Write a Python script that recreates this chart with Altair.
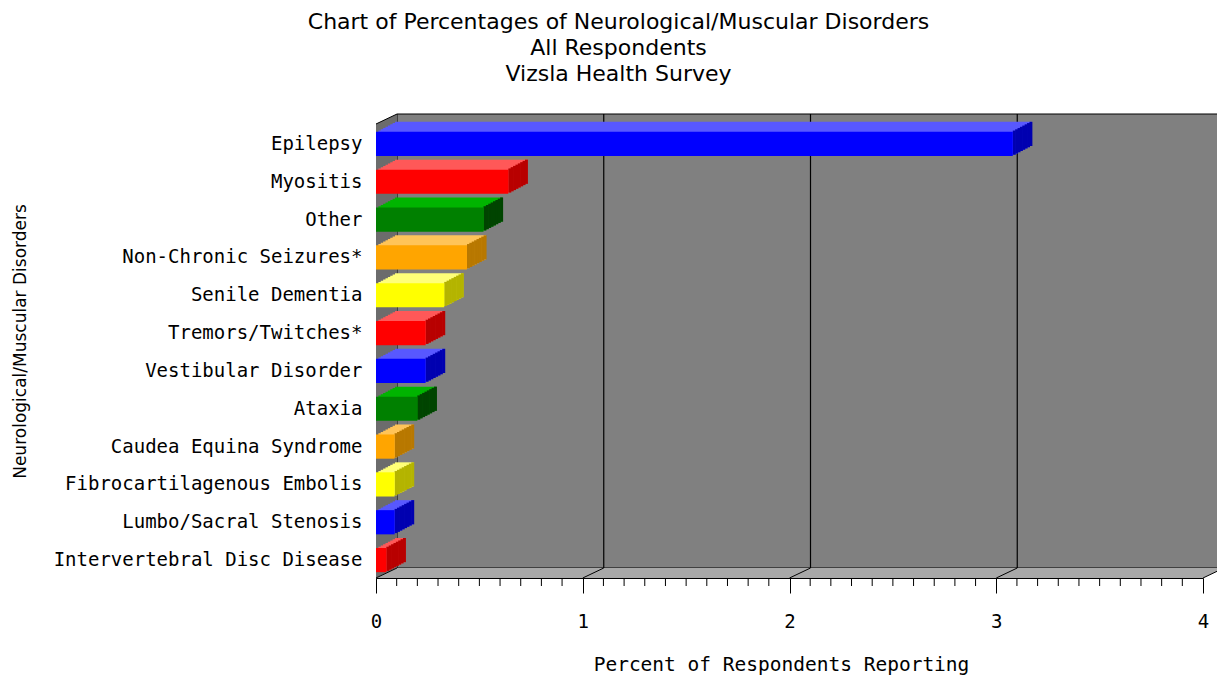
import altair as alt
import pandas as pd

# ---------------- data ----------------
categories = [
    "Epilepsy", "Myositis", "Other", "Non-Chronic Seizures*", "Senile Dementia",
    "Tremors/Twitches*", "Vestibular Disorder", "Ataxia", "Caudea Equina Syndrome",
    "Fibrocartilagenous Embolis", "Lumbo/Sacral Stenosis", "Intervertebral Disc Disease",
]
values = [3.08, 0.64, 0.52, 0.44, 0.33, 0.24, 0.24, 0.20, 0.09, 0.09, 0.09, 0.05]
hues = ["blue", "red", "green", "orange", "yellow", "red", "blue", "green",
        "orange", "yellow", "blue", "red"]
x_ticks = [0, 1, 2, 3, 4]
minor_ticks = [round(i * 0.1, 1) for i in range(41) if i % 10 != 0]

title_lines = ["Chart of Percentages of Neurological/Muscular Disorders",
               "All Respondents", "Vizsla Health Survey"]

# ---------------- styles ----------------
FRONT = {"blue": "#0000ff", "red": "#ff0000", "green": "#008000",
         "orange": "#ffa500", "yellow": "#ffff00"}
TOP = {"blue": "#5858ff", "red": "#ff5858", "green": "#00b400",
       "orange": "#ffc458", "yellow": "#ffff78"}
SIDE = {"blue": "#0000b0", "red": "#b80000", "green": "#004400",
        "orange": "#b87800", "yellow": "#b4b400"}

W, H = 827, 454          # plot (front plane) size
DX, DY = 21, 10          # wall depth
BDX, BDY = 19, 10        # bar depth
N = 8                    # steps to draw bar depth
BASE = 1                 # small downward shift of bars

df = pd.DataFrame({"cat": categories, "val": values})
ticks_df = pd.DataFrame({"v": x_ticks})
grid_df = pd.DataFrame({"v": x_ticks[1:-1]})
minor_df = pd.DataFrame({"v": minor_ticks})

x_scale = alt.Scale(domain=[0, 4], nice=False, zero=True)
y_scale = alt.Scale(domain=categories, paddingInner=0.36, paddingOuter=0.18)

x_axis = alt.Axis(
    values=x_ticks, format="d", grid=False, tickSize=15, tickColor="black",
    domainColor="black", domainWidth=1, labelFont="DejaVu Sans Mono",
    labelFontSize=19, labelColor="black", labelPadding=19, labelFlush=False,
    title="Percent of Respondents Reporting", titleFont="DejaVu Sans Mono",
    titleFontSize=19.5, titleFontWeight="normal", titleColor="black",
    titleBaseline="alphabetic", titleY=92, titleX=405,
)
y_axis = alt.Axis(
    grid=False, ticks=False, domainColor="black", domainWidth=1,
    labelFont="DejaVu Sans Mono", labelFontSize=19, labelColor="black",
    labelPadding=14, labelLimit=500, labelOffset=1,
    title="Neurological/Muscular Disorders", titleFont="DejaVu Sans",
    titleFontSize=17, titleFontWeight="normal", titleColor="black",
    titleAngle=270, titleBaseline="middle", titleAlign="center",
    titleX=-356, titleY=217,
)


def X(field=None, datum=None):
    if datum is not None:
        return alt.X(datum=datum, type="quantitative", scale=x_scale, axis=x_axis)
    return alt.X(field, type="quantitative", scale=x_scale, axis=x_axis)


Ybar = alt.Y("cat:N", scale=y_scale, sort=categories, axis=y_axis)


def col(pal):
    return alt.Color("cat:N", legend=None,
                     scale=alt.Scale(domain=categories, range=[pal[h] for h in hues]))


layers = []

# back wall
layers.append(
    alt.Chart(ticks_df).mark_rect(fill="#808080", stroke="black", strokeWidth=1,
                                  xOffset=DX, x2Offset=DX)
    .transform_filter("datum.v == 0")
    .encode(x=X(datum=0), x2=alt.X2(datum=4),
            y=alt.value(-DY), y2=alt.value(H - DY))
)

# left wall and floor (pixel geometry of the frame)
left_wall = pd.DataFrame({"px": [0, DX], "py": [0, -DY], "py2": [H, H - DY]})
floor = pd.DataFrame({"px": [0, DX, W, W + DX],
                      "py": [H, H - DY, H - DY, H - DY],
                      "py2": [H, H, H, H - DY]})
for d, c in ((left_wall, "#6c6c6c"), (floor, "#a8a8a8")):
    layers.append(
        alt.Chart(d).mark_area(color=c, opacity=1, interpolate="linear")
        .encode(x=alt.X("px:Q", scale=None), y=alt.Y("py:Q", scale=None),
                y2=alt.Y2("py2"))
    )

# wall gridlines
layers.append(
    alt.Chart(grid_df).mark_rule(color="black", strokeWidth=1.2, xOffset=DX)
    .encode(x=X("v"), y=alt.value(-DY), y2=alt.value(H - DY))
)
# floor diagonals at major ticks
layers.append(
    alt.Chart(ticks_df).mark_rule(color="black", strokeWidth=1, x2Offset=DX)
    .encode(x=X("v"), x2=alt.X2("v"), y=alt.value(H), y2=alt.value(H - DY))
)
# top-left diagonal
layers.append(
    alt.Chart(ticks_df).transform_filter("datum.v == 0")
    .mark_rule(color="black", strokeWidth=1, x2Offset=DX)
    .encode(x=X("v"), x2=alt.X2("v"), y=alt.value(0), y2=alt.value(-DY))
)
# minor ticks
layers.append(
    alt.Chart(minor_df).mark_rule(color="black", strokeWidth=1)
    .encode(x=X("v"), y=alt.value(H), y2=alt.value(H + 8))
)

s = BDX / N
t = BDY / N
# top faces (stepped)
for k in range(N, 0, -1):
    layers.append(
        alt.Chart(df).mark_bar(xOffset=k * s, x2Offset=k * s, yOffset=BASE - k * t)
        .encode(x=X("val"), y=Ybar, color=col(TOP))
    )
# side faces (stepped)
for k in range(1, N + 1):
    layers.append(
        alt.Chart(df).mark_bar(xOffset=(k - 1) * s, x2Offset=k * s + 0.6,
                               yOffset=BASE - k * t)
        .encode(x=X("val"), x2=alt.X2("val"), y=Ybar, color=col(SIDE))
    )
# front faces
layers.append(
    alt.Chart(df).mark_bar(yOffset=BASE)
    .encode(x=X("val"), y=Ybar, color=col(FRONT))
)

chart = (
    alt.layer(*layers)
    .resolve_scale(color="independent")
    .properties(
        width=W, height=H,
        autosize=alt.AutoSizeParams(type="none"),
        padding={"left": 368, "top": 116, "right": 14, "bottom": 97},
        background="white",
        title=alt.Title(text=title_lines, font="DejaVu Sans", fontSize=22,
                        fontWeight="normal", color="black", lineHeight=26,
                        anchor="middle", frame="group", dx=-171, offset=27),
    )
    .configure_view(stroke=None)
)

chart.save("out.html", embed_options={"renderer": "svg", "actions": False})
